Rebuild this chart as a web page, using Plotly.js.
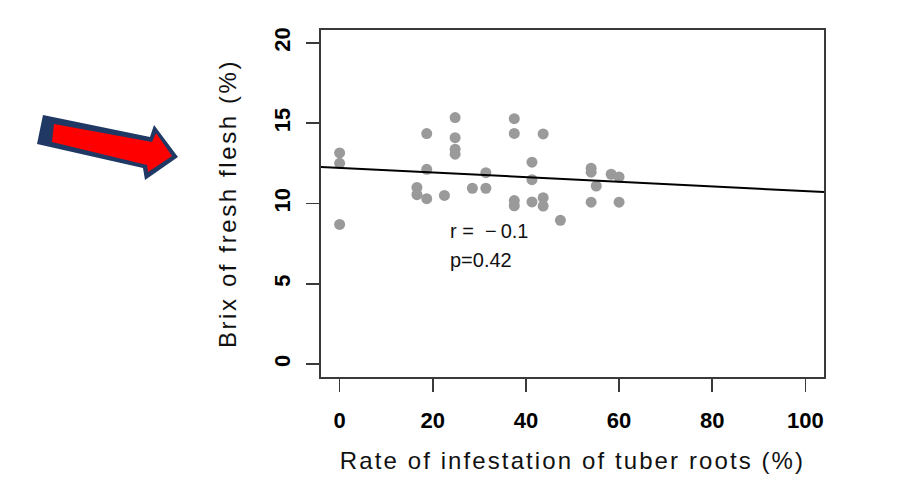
<!DOCTYPE html>
<html>
<head>
<meta charset="utf-8">
<script src="https://cdn.plot.ly/plotly-3.0.1.min.js"></script>
<style>
  html, body { margin: 0; padding: 0; background: #fff; }
  #chart { width: 909px; height: 486px; }
  .g-xtitle text { letter-spacing: 2.1px; }
  .g-ytitle text { letter-spacing: 2.6px; }
</style>
</head>
<body>
<div id="chart"></div>
<script>
// ---- data ----
const infestation = [0, 0, 0, 16.6, 16.6, 18.7, 18.7, 18.7, 22.5, 24.8, 24.8, 24.8, 24.8, 28.5, 31.4, 31.4,
  37.5, 37.5, 37.5, 37.5, 41.3, 41.3, 41.3, 43.7, 43.7, 43.7, 47.4, 54.0, 54.0, 55.1, 54.0, 58.3, 60.0, 60.0];
const brix = [13.15, 12.5, 8.7, 11.0, 10.55, 14.35, 12.13, 10.3, 10.5, 15.35, 14.1, 13.38, 13.07, 10.95, 11.92, 10.95,
  15.28, 14.36, 10.18, 9.86, 12.57, 11.48, 10.1, 14.33, 10.36, 9.84, 8.95, 12.2, 11.95, 11.09, 10.08, 11.82, 11.65, 10.08];
const fitIntercept = 12.22;
const fitSlope = -0.0145;
const xTicks = [0, 20, 40, 60, 80, 100];
const yTicks = [0, 5, 10, 15, 20];
const statLines = ["r\u00a0=\u00a0\u00a0\u2212\u20090.1", "p=0.42"];
const xTitle = "Rate of infestation of tuber roots (%)";
const yTitle = "Brix of fresh flesh (%)";

// ---- layout geometry ----
const M = { l: 321, r: 85, t: 30, b: 109 };
const W = 909, H = 486;
const xRange = [-4, 104];
const yRange = [-0.8, 20.8];
const pw = W - M.l - M.r, ph = H - M.t - M.b;
function toPaper(p) { return [(p[0] - M.l) / pw, (H - M.b - p[1]) / ph]; }
function pathFrom(pts) {
  return pts.map((p, i) => { const q = toPaper(p); return (i ? 'L' : 'M') + q[0].toFixed(4) + ',' + q[1].toFixed(4); }).join(' ') + ' Z';
}
const arrowOuter = [[43, 115], [150, 137], [154, 125], [178, 157], [145, 180], [143, 168], [37, 144]];
const arrowInner = [[54, 124], [152, 142], [156, 133], [172, 156], [148, 172], [147, 165], [52, 142]];

const fitX = xRange.slice();
const fitY = fitX.map(x => fitIntercept + fitSlope * x);

const traces = [
  {
    x: infestation, y: brix, type: 'scatter', mode: 'markers',
    marker: { color: '#9a9a9a', size: 11 }, hoverinfo: 'x+y', showlegend: false
  },
  {
    x: fitX, y: fitY, type: 'scatter', mode: 'lines',
    line: { color: '#000', width: 2 }, showlegend: false, hoverinfo: 'skip'
  }
];

const axisCommon = {
  showgrid: false, zeroline: false,
  showline: true, mirror: true, linecolor: '#3a3a3a', linewidth: 1.6,
  ticks: 'outside', ticklen: 13, tickwidth: 1.6, tickcolor: '#3a3a3a',
  tickfont: { family: 'Liberation Sans, Arial, sans-serif', size: 22, color: '#000', weight: 'bold' },
  fixedrange: true
};

const layout = {
  width: W, height: H,
  margin: M,
  paper_bgcolor: '#fff', plot_bgcolor: '#fff',
  showlegend: false,
  xaxis: Object.assign({}, axisCommon, {
    range: xRange, tickmode: 'array', tickvals: xTicks, ticktext: xTicks.map(String),
    ticklabelstandoff: 10,
    title: { text: xTitle, font: { family: 'Liberation Sans, Arial, sans-serif', size: 24, color: '#111' }, standoff: 20 },
    automargin: false
  }),
  yaxis: Object.assign({}, axisCommon, {
    range: yRange, tickmode: 'array', tickvals: yTicks, ticktext: yTicks.map(String),
    tickangle: -90, ticklabelstandoff: 8,
    title: { text: yTitle, font: { family: 'Liberation Sans, Arial, sans-serif', size: 24, color: '#111' }, standoff: 26 },
    automargin: false
  }),
  annotations: statLines.map((t, i) => ({
    x: 23.3, y: [8.3, 6.5][i], xref: 'x', yref: 'y', xanchor: 'left', yanchor: 'middle',
    text: t, showarrow: false,
    font: { family: 'Liberation Sans, Arial, sans-serif', size: 20, color: '#111' }
  })),
  shapes: [
    { type: 'path', xref: 'paper', yref: 'paper', path: pathFrom(arrowOuter), fillcolor: '#203864', line: { width: 0 } },
    { type: 'path', xref: 'paper', yref: 'paper', path: pathFrom(arrowInner), fillcolor: '#ff0000', line: { width: 0 } }
  ]
};

Plotly.newPlot('chart', traces, layout, { displayModeBar: false, staticPlot: true });
</script>
</body>
</html>
